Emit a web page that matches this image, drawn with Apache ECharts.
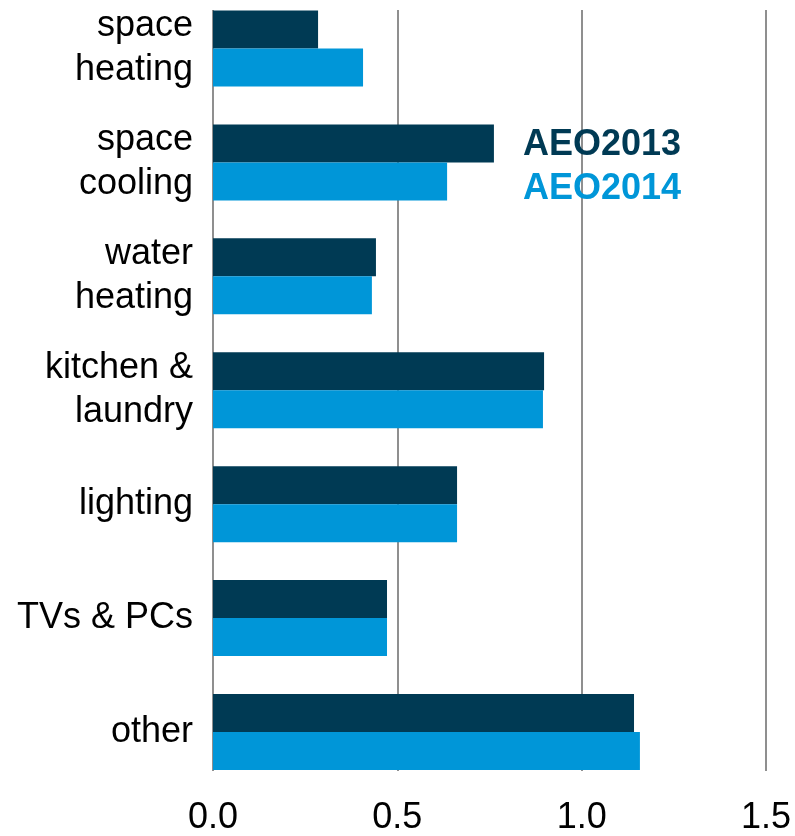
<!DOCTYPE html>
<html>
<head>
<meta charset="utf-8">
<script src="https://cdn.jsdelivr.net/npm/echarts@6/dist/echarts.min.js"></script>
<style>
  html, body { margin: 0; padding: 0; background: #fff; }
  #chart { width: 795px; height: 836px; }
</style>
</head>
<body>
<div id="chart"></div>
<script>
  var categories = ['space\nheating', 'space\ncooling', 'water\nheating', 'kitchen &\nlaundry', 'lighting', 'TVs & PCs', 'other'];
  var aeo2013 = [0.285, 0.762, 0.442, 0.898, 0.662, 0.472, 1.142];
  var aeo2014 = [0.407, 0.635, 0.431, 0.895, 0.662, 0.472, 1.158];
  var xTicks = [0, 0.5, 1.0, 1.5];

  var dark = '#003A54';
  var light = '#0096D8';
  var font = 'Liberation Sans, Arial, sans-serif';

  var myChart = echarts.init(document.getElementById('chart'));
  myChart.setOption({
    animation: false,
    legend: {
      orient: 'vertical',
      left: 513,
      top: 122,
      icon: 'none',
      itemWidth: 0,
      itemHeight: 0,
      itemGap: 8,
      selectedMode: false,
      textStyle: { fontFamily: font, fontSize: 36, fontWeight: 'bold' },
      data: [
        { name: 'AEO2013', textStyle: { color: dark } },
        { name: 'AEO2014', textStyle: { color: light } }
      ]
    },
    grid: [
      // bars: category centres at the grid edges
      { left: 213, width: 553, top: 48, height: 684 },
      // gridlines + tick labels
      { left: 213, width: 553, top: 10, height: 761 }
    ],
    xAxis: [
      { gridIndex: 0, type: 'value', min: 0, max: 1.5, show: false },
      {
        gridIndex: 1, type: 'value', min: xTicks[0], max: xTicks[xTicks.length - 1], interval: 0.5,
        axisLine: { show: false },
        axisTick: { show: false },
        splitLine: { show: true, lineStyle: { color: '#8f8f8f', width: 2 } },
        axisLabel: {
          margin: 29,
          fontFamily: font,
          fontSize: 36,
          color: '#000',
          formatter: function (v) { return v.toFixed(1); }
        }
      }
    ],
    yAxis: [
      {
        gridIndex: 0, type: 'category', inverse: true, data: categories,
        boundaryGap: false,
        axisLine: { show: false },
        axisTick: { show: false },
        splitLine: { show: false },
        axisLabel: {
          margin: 20,
          fontFamily: font,
          fontSize: 36,
          lineHeight: 44,
          padding: [9, 0, 0, 0],
          color: '#000',
          align: 'right'
        }
      },
      { gridIndex: 1, type: 'value', show: false, min: 0, max: 1 }
    ],
    series: [
      {
        name: 'AEO2013', type: 'bar', xAxisIndex: 0, yAxisIndex: 0,
        data: aeo2013, barWidth: 38, barGap: '0%',
        itemStyle: { color: dark }, z: 3
      },
      {
        name: 'AEO2014', type: 'bar', xAxisIndex: 0, yAxisIndex: 0,
        data: aeo2014, barWidth: 38, barGap: '0%',
        itemStyle: { color: light }, z: 3
      },
      {
        type: 'scatter', xAxisIndex: 1, yAxisIndex: 1, data: [], silent: true
      }
    ]
  });
</script>
</body>
</html>
